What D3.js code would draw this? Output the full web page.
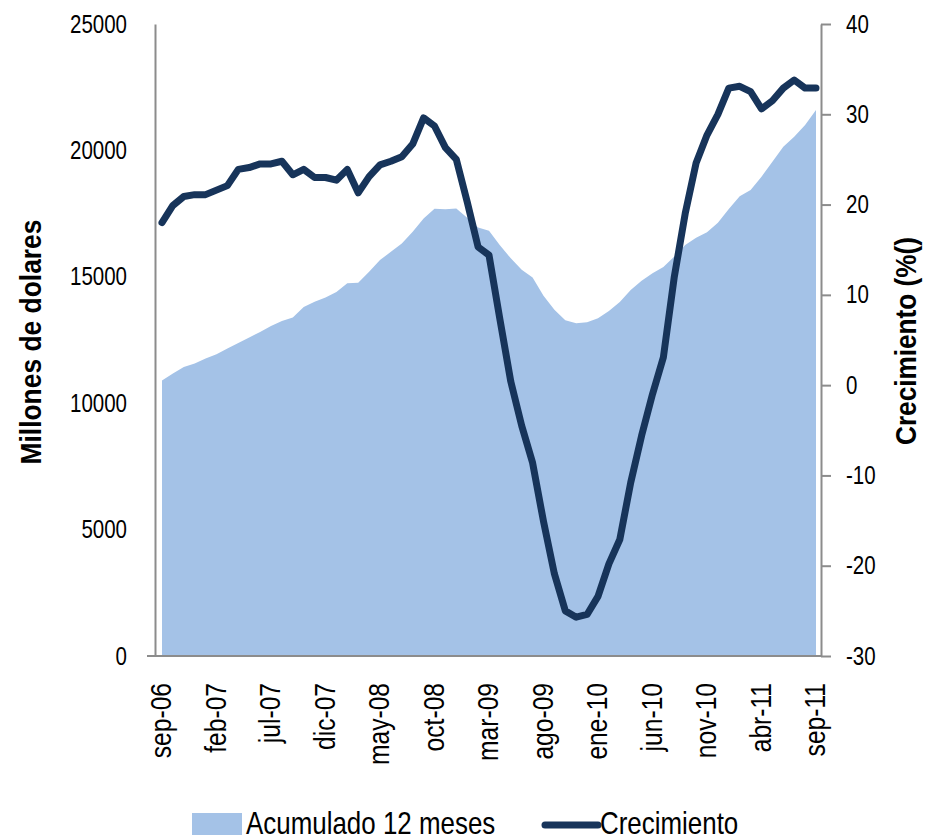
<!DOCTYPE html>
<html>
<head>
<meta charset="utf-8">
<script src="https://cdnjs.cloudflare.com/ajax/libs/d3/7.8.5/d3.min.js"></script>
<style>
  body { margin: 0; background: #fff; }
  text { font-family: "Liberation Sans", Arial, sans-serif; fill: #000; }
</style>
</head>
<body>
<div id="chart"></div>
<script>
// months sep-06 .. sep-11
const months = [
  "sep-06","oct-06","nov-06","dic-06","ene-07","feb-07","mar-07","abr-07","may-07","jun-07","jul-07","ago-07",
  "sep-07","oct-07","nov-07","dic-07","ene-08","feb-08","mar-08","abr-08","may-08","jun-08","jul-08","ago-08",
  "sep-08","oct-08","nov-08","dic-08","ene-09","feb-09","mar-09","abr-09","may-09","jun-09","jul-09","ago-09",
  "sep-09","oct-09","nov-09","dic-09","ene-10","feb-10","mar-10","abr-10","may-10","jun-10","jul-10","ago-10",
  "sep-10","oct-10","nov-10","dic-10","ene-11","feb-11","mar-11","abr-11","may-11","jun-11","jul-11","ago-11",
  "sep-11"
];
const tickLabels = ["sep-06","feb-07","jul-07","dic-07","may-08","oct-08","mar-09","ago-09","ene-10","jun-10","nov-10","abr-11","sep-11"];

// Acumulado 12 meses (millones de dolares)
const acumulado = [
  10900, 11170, 11430, 11570, 11770, 11940, 12160, 12380, 12600, 12820, 13050, 13250,
  13390, 13810, 14010, 14180, 14400, 14740, 14760, 15200, 15660, 15990, 16320, 16780,
  17310, 17690, 17670, 17700, 17340, 16950, 16820, 16250, 15730, 15280, 14970, 14250,
  13700, 13280, 13160, 13200, 13360, 13650, 14000, 14480, 14840, 15140, 15390, 15800,
  16260, 16540, 16760, 17140, 17680, 18190, 18430, 18960, 19550, 20140, 20540, 21000,
  21600
];
// Crecimiento (%)
const crecimiento = [
  18.0, 19.9, 20.9, 21.1, 21.1, 21.6, 22.1, 23.9, 24.1, 24.5, 24.5, 24.8,
  23.3, 23.9, 23.0, 23.0, 22.7, 23.9, 21.3, 23.1, 24.4, 24.8, 25.3, 26.7,
  29.6, 28.7, 26.3, 25.0, 20.3, 15.3, 14.4, 7.3, 0.4, -4.5, -8.6, -15.1,
  -20.9, -25.0, -25.7, -25.4, -23.4, -19.8, -17.1, -10.8, -5.6, -1.0, 3.1, 12.0,
  19.0, 24.6, 27.7, 30.0, 32.9, 33.1, 32.5, 30.6, 31.5, 32.9, 33.8, 32.9,
  32.9
];
const leftTicks = [0, 5000, 10000, 15000, 20000, 25000];
const rightTicks = [-30, -20, -10, 0, 10, 20, 30, 40];

const areaColor = "#a4c2e7";
const lineColor = "#17345a";
const axisColor = "#8c8c8c";

const width = 926, height = 835;
const plotLeft = 155, plotRight = 821, plotTop = 24, plotBottom = 656;

const svg = d3.select("#chart").append("svg")
    .attr("width", width)
    .attr("height", height);

const xScale = d3.scalePoint().domain(months).range([162, 816]);
const yLeft = d3.scaleLinear().domain([0, 25000]).range([plotBottom, plotTop]);
const yRight = d3.scaleLinear().domain([-30, 40]).range([plotBottom, plotTop]);

// squeeze text to mimic a narrow font
function narrow(sel, k) {
    sel.each(function () {
        const w = this.getComputedTextLength();
        d3.select(this).attr("textLength", w * k).attr("lengthAdjust", "spacingAndGlyphs");
    });
}

// area
const area = d3.area()
    .x((d, i) => xScale(months[i]))
    .y0(yLeft(0))
    .y1(d => yLeft(d));

svg.append("path")
    .datum(acumulado)
    .attr("d", area)
    .attr("fill", areaColor);

// left axis
const leftAxis = svg.append("g")
    .attr("transform", `translate(${plotLeft},0)`)
    .call(d3.axisLeft(yLeft).tickValues(leftTicks).tickSize(0).tickSizeOuter(0).tickPadding(28).tickFormat(d => String(d)));
leftAxis.select(".domain").attr("stroke", axisColor).attr("stroke-width", 2);
leftAxis.selectAll("text").attr("font-size", 25).attr("fill", "#000").call(narrow, 0.82);

// right axis
const rightAxis = svg.append("g")
    .attr("transform", `translate(${plotRight},0)`)
    .call(d3.axisRight(yRight).tickValues(rightTicks).tickSize(10).tickSizeOuter(0).tickPadding(15).tickFormat(d => String(d)));
rightAxis.select(".domain").attr("stroke", axisColor).attr("stroke-width", 2);
rightAxis.selectAll(".tick line").attr("stroke", axisColor).attr("stroke-width", 2);
rightAxis.selectAll("text").attr("font-size", 25).attr("fill", "#000").call(narrow, 0.82);

// bottom axis
svg.append("line")
    .attr("x1", 147).attr("x2", plotRight)
    .attr("y1", plotBottom).attr("y2", plotBottom)
    .attr("stroke", axisColor).attr("stroke-width", 2);

const xAxis = svg.append("g")
    .attr("transform", `translate(0,${plotBottom})`)
    .call(d3.axisBottom(xScale).tickValues(tickLabels).tickSize(0));
xAxis.select(".domain").remove();
xAxis.selectAll("text")
    .attr("font-size", 30)
    .attr("fill", "#000")
    .attr("text-anchor", "end")
    .attr("y", 0)
    .attr("dy", "0.35em")
    .attr("transform", "translate(-2,27) rotate(-90)")
    .call(narrow, 0.82);

// line
const line = d3.line()
    .x((d, i) => xScale(months[i]))
    .y(d => yRight(d));

svg.append("path")
    .datum(crecimiento)
    .attr("d", line)
    .attr("fill", "none")
    .attr("stroke", lineColor)
    .attr("stroke-width", 7)
    .attr("stroke-linejoin", "round")
    .attr("stroke-linecap", "round");

// axis titles
svg.append("text")
    .attr("transform", "translate(30,342) rotate(-90)")
    .attr("text-anchor", "middle")
    .attr("dy", "0.35em")
    .attr("font-size", 30)
    .attr("font-weight", "bold")
    .text("Millones de dolares")
    .attr("textLength", 245)
    .attr("lengthAdjust", "spacingAndGlyphs");

svg.append("text")
    .attr("transform", "translate(905,341) rotate(-90)")
    .attr("text-anchor", "middle")
    .attr("dy", "0.35em")
    .attr("font-size", 30)
    .attr("font-weight", "bold")
    .text("Crecimiento (%()")
    .attr("textLength", 208)
    .attr("lengthAdjust", "spacingAndGlyphs");

// legend
const legend = svg.append("g");
legend.append("rect")
    .attr("x", 192).attr("y", 813)
    .attr("width", 50).attr("height", 25)
    .attr("fill", areaColor);
legend.append("text")
    .attr("x", 246).attr("y", 834)
    .attr("font-size", 32)
    .text("Acumulado 12 meses")
    .call(narrow, 0.81);
legend.append("line")
    .attr("x1", 545).attr("x2", 598)
    .attr("y1", 825).attr("y2", 825)
    .attr("stroke", lineColor)
    .attr("stroke-width", 7)
    .attr("stroke-linecap", "round");
legend.append("text")
    .attr("x", 600).attr("y", 834)
    .attr("font-size", 32)
    .text("Crecimiento")
    .call(narrow, 0.81);
</script>
</body>
</html>
